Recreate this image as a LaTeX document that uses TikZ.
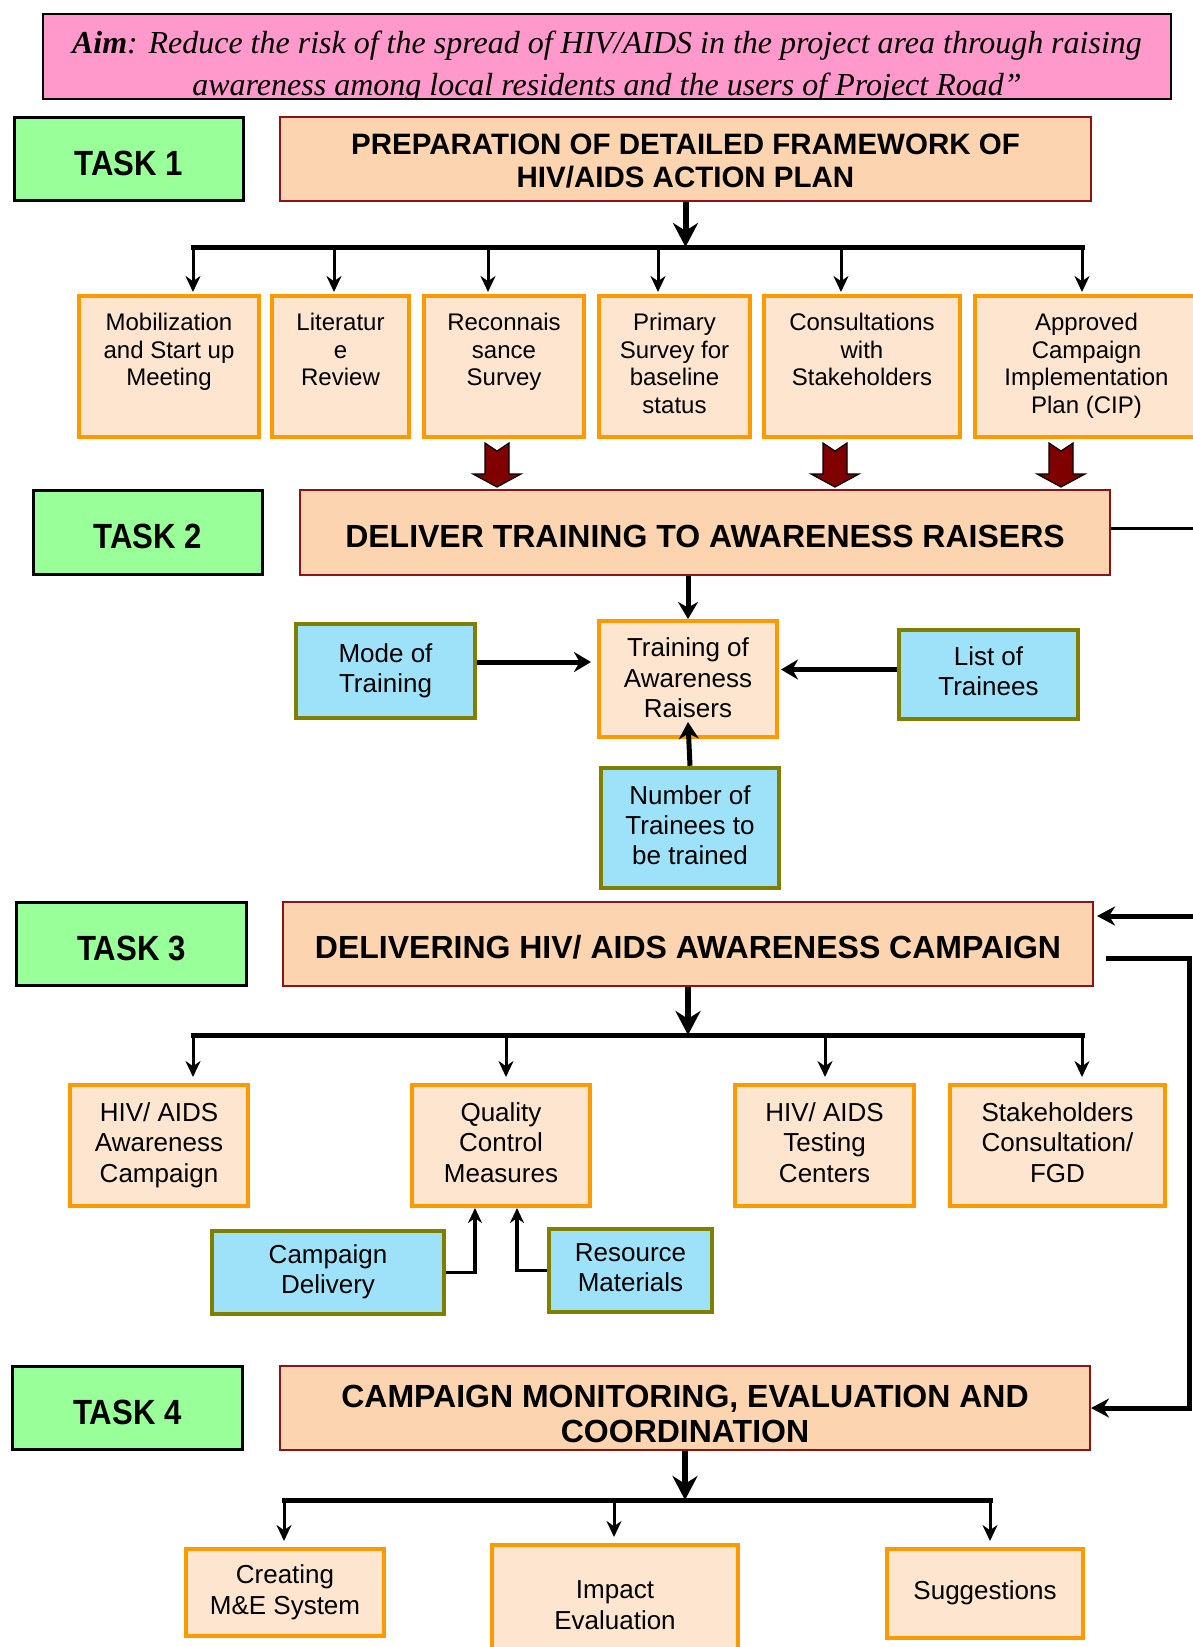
\documentclass[tikz,border=0pt]{standalone}
\usepackage{fontspec}
\setmainfont{Liberation Sans}
\newfontfamily\aimfont{Liberation Serif}
\newfontfamily\taskfont{Liberation Sans}[FakeStretch=0.89]
\usetikzlibrary{positioning, arrows.meta}
\definecolor{aimpink}{RGB}{255,153,204}
\definecolor{taskgreen}{RGB}{153,255,153}
\definecolor{headpeach}{RGB}{252,212,176}
\definecolor{headred}{RGB}{140,20,20}
\definecolor{subpeach}{RGB}{254,229,208}
\definecolor{boxorange}{RGB}{255,153,0}
\definecolor{inblue}{RGB}{158,226,250}
\definecolor{olivebd}{RGB}{128,128,0}
\definecolor{arrowred}{RGB}{128,0,0}
\newcommand\headrise[1]{\rule{0pt}{#1}}
\tikzstyle{aimbox} = [draw=black, line width=2pt, fill=aimpink, inner sep=0pt]
\tikzstyle{aimtext} = [align=center, inner sep=0pt, font=\aimfont\itshape\fontsize{32}{41.5}\selectfont]
\tikzstyle{taskbox} = [draw=black, line width=2.5pt, fill=taskgreen, execute at begin node={\rule{0pt}{33pt}}, font=\taskfont\bfseries\fontsize{35}{40}\selectfont]
\tikzstyle{headbox} = [draw=headred, line width=2pt, fill=headpeach, align=center, font=\bfseries\fontsize{32}{35}\selectfont]
\tikzstyle{subbox} = [draw=boxorange, line width=4pt, fill=subpeach, align=center, text depth=6pt, font=\fontsize{26}{30.5}\selectfont]
\tikzstyle{inbox} = [draw=olivebd, line width=4.5pt, fill=inblue, align=center, text depth=6pt, font=\fontsize{26}{30}\selectfont]
\tikzstyle{rowtext} = [align=center, inner sep=0pt, font=\fontsize{24}{27.7}\selectfont]
\tikzstyle{bus} = [line width=5pt, line cap=rect]
\tikzstyle{drop} = [line width=3pt, -{Stealth[length=16pt, width=15pt]}]
\tikzstyle{trunk} = [line width=6pt, -{Stealth[length=24pt, width=25pt]}]
\tikzstyle{inarrow} = [line width=5pt, -{Stealth[length=17pt, width=20pt]}]
\tikzstyle{elbow} = [line width=3.5pt, -{Stealth[length=15pt, width=14pt]}]
\tikzstyle{feed} = [line width=5pt, -{Stealth[length=18pt, width=19pt]}]
\tikzset{redarrow/.pic={
  \draw[black, line width=1.2pt, fill=arrowred, line join=miter]
    (-12,0) -- (0,8) -- (12,0) -- (12,31) -- (24,31) -- (0,44) -- (-24,31) -- (-12,31) -- cycle;}}

\begin{document}
\begin{tikzpicture}[x=1pt, y=-1pt]
\useasboundingbox (0,0) rectangle (1192,1647);

\node[aimbox, minimum width=1128pt, minimum height=85pt] (aim) at (607,56.5) {};
\begin{scope}
  \clip ([xshift=1pt,yshift=-1pt]aim.north west) rectangle ([xshift=-1pt,yshift=1pt]aim.south east);
  \node[aimtext, anchor=north] (aimtxt) at (607,31) {{\bfseries Aim}: Reduce the risk of the spread of HIV/AIDS in the project area through raising\\awareness among local residents and the users of Project Road”};
\end{scope}

% task 1
\node[taskbox, minimum width=229pt, minimum height=83pt, execute at begin node={\rule{0pt}{29pt}}] (task1) at (129,159) {TASK 1};
\node[headbox, minimum width=811pt, minimum height=84pt, font=\bfseries\fontsize{29.5}{33}\selectfont] (prep) at (685.5,159) {\headrise{25.5pt}PREPARATION OF DETAILED FRAMEWORK OF\\HIV/AIDS ACTION PLAN};

\node[subbox, minimum width=180pt, minimum height=141pt] (mob) at (169,366.5) {};
\node[subbox, minimum width=137pt, minimum height=141pt] (lit) at (340.5,366.5) {};
\node[subbox, minimum width=160pt, minimum height=141pt] (rec) at (504,366.5) {};
\node[subbox, minimum width=151pt, minimum height=141pt] (pri) at (674.5,366.5) {};
\node[subbox, minimum width=196pt, minimum height=141pt] (con) at (862,366.5) {};
\node[subbox, minimum width=223pt, minimum height=141pt] (app) at (1086.5,366.5) {};
\node[rowtext, below=19pt of mob.north] (mobtxt) {Mobilization\\and Start up\\Meeting};
\node[rowtext, below=19pt of lit.north] (littxt) {Literatur\\e\\Review};
\node[rowtext, below=19pt of rec.north] (rectxt) {Reconnais\\sance\\Survey};
\node[rowtext, below=19pt of pri.north] (pritxt) {Primary\\Survey for\\baseline\\status};
\node[rowtext, below=19pt of con.north] (contxt) {Consultations\\with\\Stakeholders};
\node[rowtext, below=19pt of app.north] (apptxt) {Approved\\Campaign\\Implementation\\Plan (CIP)};

\coordinate (bus1L) at (193,247);
\coordinate (bus1R) at (1082,247);
\draw[trunk] (prep.south) -- (prep.south |- bus1L);
\draw[bus] (bus1L) -- (bus1R);
\foreach \x/\n in {193/mob, 334/lit, 488/rec, 658/pri, 841/con, 1082/app}{
  \coordinate (top-\n) at (\x,247);
  \draw[drop, shorten >=2pt] (top-\n) -- (top-\n |- \n.north);
}

\pic at ([xshift=-7pt,yshift=-4pt]rec.south) {redarrow};
\pic at ([xshift=-27pt,yshift=-4pt]con.south) {redarrow};
\pic at ([xshift=-25.5pt,yshift=-4pt]app.south) {redarrow};

% task 2
\node[taskbox, minimum width=229pt, minimum height=84pt] (task2) at (148,532.5) {TASK 2};
\node[headbox, minimum width=810pt, minimum height=85pt] (deliver) at (705,532.5) {\headrise{31pt}DELIVER TRAINING TO AWARENESS RAISERS};
\coordinate (out2) at (1200,528);
\draw[line width=3pt] (out2 -| deliver.east) -- (out2);

\node[subbox, minimum width=178pt, minimum height=116pt, text depth=2pt] (train) at (688,679) {Training of\\Awareness\\Raisers};
\node[inbox, minimum width=179pt, minimum height=94pt] (mode) at (385.5,671) {Mode of\\Training};
\node[inbox, minimum width=179pt, minimum height=89pt] (list) at (988.5,674.5) {List of\\Trainees};
\node[inbox, minimum width=178pt, minimum height=120pt] (number) at (690,828) {Number of\\Trainees to\\be trained};

\draw[inarrow] (deliver.south -| train.north) -- (train.north);
\draw[inarrow, shorten >=6pt] ([yshift=9pt]mode.east) -- ([yshift=9pt]mode.east -| train.west);
\draw[inarrow, shorten >=2pt] ([yshift=5pt]list.west) -- ([yshift=5pt]list.west -| train.east);
\draw[inarrow] (number.north) -- ([yshift=17pt]train.south);

% task 3
\node[taskbox, minimum width=230pt, minimum height=83pt] (task3) at (131.5,944) {TASK 3};
\node[headbox, minimum width=810pt, minimum height=84pt] (dcamp) at (688,944) {\headrise{29.5pt}DELIVERING HIV/ AIDS AWARENESS CAMPAIGN};

\node[subbox, minimum width=178pt, minimum height=121pt] (hac) at (159,1145.5) {HIV/ AIDS\\Awareness\\Campaign};
\node[subbox, minimum width=178pt, minimum height=121pt] (qcm) at (501,1145.5) {Quality\\Control\\Measures};
\node[subbox, minimum width=179pt, minimum height=121pt] (htc) at (824.5,1145.5) {HIV/ AIDS\\Testing\\Centers};
\node[subbox, minimum width=215pt, minimum height=121pt] (scf) at (1057.5,1145.5) {Stakeholders\\Consultation/\\FGD};

\coordinate (bus3L) at (193,1035);
\coordinate (bus3R) at (1082,1035);
\draw[trunk] (dcamp.south) -- (dcamp.south |- bus3L);
\draw[bus] (bus3L) -- (bus3R);
\foreach \x/\n in {193/hac, 506/qcm, 825/htc, 1082/scf}{
  \coordinate (top-\n) at (\x,1035);
  \draw[drop, shorten >=6pt] (top-\n) -- (top-\n |- \n.north);
}

\node[inbox, minimum width=232pt, minimum height=83pt] (cdel) at (328,1272.5) {Campaign\\Delivery};
\node[inbox, minimum width=163pt, minimum height=83pt] (rmat) at (630.5,1270.5) {Resource\\Materials};
\draw[elbow] (cdel.east) -| ([xshift=-26pt]qcm.south);
\draw[elbow] (rmat.west) -| ([xshift=16pt]qcm.south);

% task 4
\node[taskbox, minimum width=230pt, minimum height=83pt] (task4) at (127.5,1408) {TASK 4};
\node[headbox, minimum width=810pt, minimum height=84pt] (monitor) at (685,1408) {\headrise{34pt}CAMPAIGN MONITORING, EVALUATION AND\\COORDINATION};

\coordinate (in3) at (1200,916);
\draw[feed, shorten >=3pt] (in3) -- (in3 -| dcamp.east);
\coordinate (fbstart) at (1106,958);
\coordinate (fbturn) at (1189,958);
\draw[feed] (fbstart) -- (fbturn) |- (monitor.east);

\node[subbox, minimum width=198pt, minimum height=87pt] (cme) at (285,1592.5) {Creating\\M\&E System};
\node[subbox, minimum width=246pt, minimum height=120pt, text depth=0pt] (iev) at (615,1605) {Impact\\Evaluation};
\node[subbox, minimum width=196pt, minimum height=89pt] (sug) at (985,1593.5) {Suggestions};

\coordinate (bus4L) at (284,1500);
\coordinate (bus4R) at (990,1500);
\draw[trunk] (monitor.south) -- (monitor.south |- bus4L);
\draw[bus] (bus4L) -- (bus4R);
\foreach \x/\n in {284/cme, 614/iev, 990/sug}{
  \coordinate (top-\n) at (\x,1500);
  \draw[drop, shorten >=6pt] (top-\n) -- (top-\n |- \n.north);
}
\end{tikzpicture}
\end{document}
